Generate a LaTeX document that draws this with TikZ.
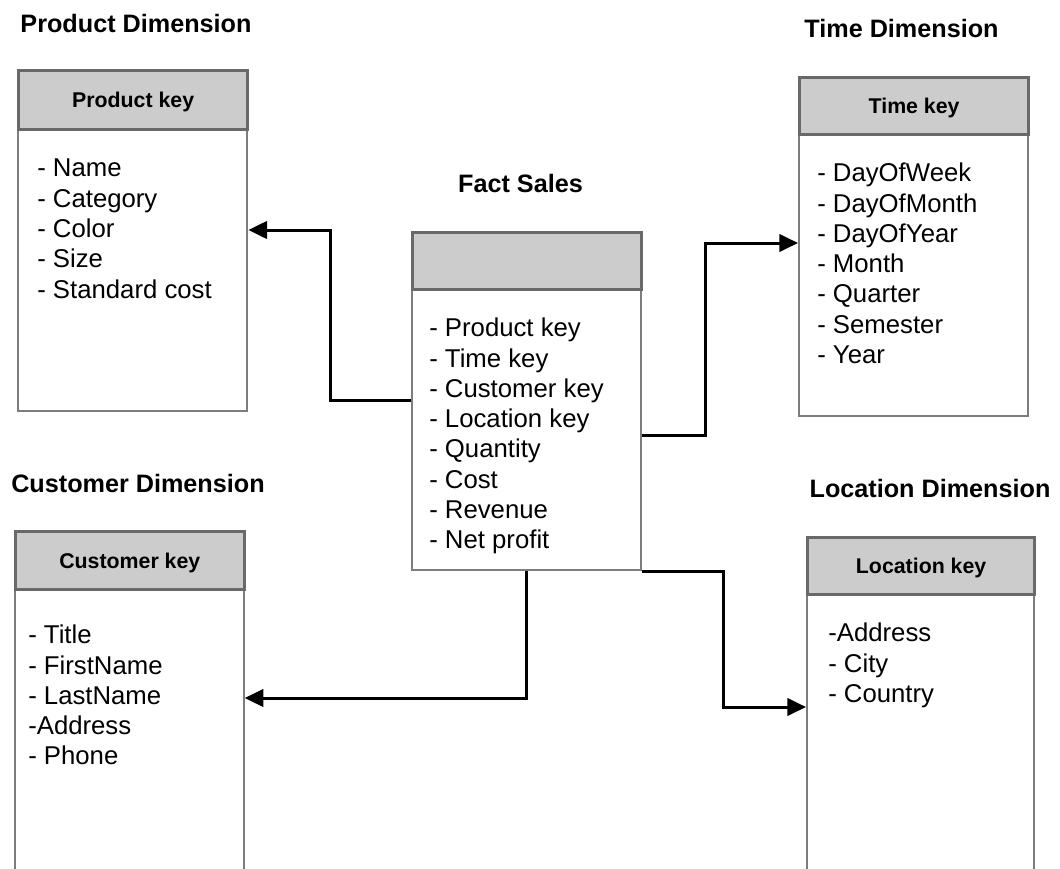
\documentclass[tikz,border=0pt]{standalone}
\usepackage{fontspec}
\setmainfont{Liberation Sans}
\usetikzlibrary{arrows.meta}
\definecolor{bordergray}{RGB}{125,125,125}
\definecolor{headborder}{RGB}{105,105,105}
\definecolor{headfill}{RGB}{204,204,204}
\begin{document}
\begin{tikzpicture}[x=0.75pt,y=-0.75pt,
 body/.style={draw=bordergray, line width=1.5pt, fill=white, rectangle, anchor=north west, inner sep=0pt},
 head/.style={draw=headborder, line width=2.2pt, fill=headfill, rectangle, anchor=north west, inner sep=0pt,
   font=\bfseries\fontsize{16}{19}\selectfont, text height=11.5pt, text depth=0pt},
 title/.style={font=\bfseries\fontsize{18.9}{22}\selectfont, anchor=base, inner sep=0pt},
 items/.style={font=\fontsize{19.3}{22.7}\selectfont, align=left, anchor=north west, inner sep=0pt},
 conn/.style={line width=2.25pt, -{Triangle[length=14pt,width=13pt]}}
]
\useasboundingbox (0,0) rectangle (1060,868);

% Product dimension
\node[title] (prodtitle) at (136,32) {Product Dimension};
\node[body, minimum width=172pt, minimum height=255.75pt] (prod) at (17,69) {};
\node[head, minimum width=172pt, minimum height=44.25pt] (prodhead) at (17,69) {Product key};
\node[items] (proditems) at (37,159) {- Name\\- Category\\- Color\\- Size\\- Standard cost};

% Fact sales
\node[title] (facttitle) at (520.5,192) {Fact Sales};
\node[body, minimum width=171.5pt, minimum height=253.5pt] (fact) at (411,231) {};
\node[head, minimum width=171.5pt, minimum height=42.75pt] (facthead) at (411,231) {};
\node[items] (factitems) at (429,318) {- Product key\\- Time key\\- Customer key\\- Location key\\- Quantity\\- Cost\\- Revenue\\- Net profit};

% Time dimension
\node[title] (timetitle) at (901.5,37) {Time Dimension};
\node[body, minimum width=172pt, minimum height=254.25pt] (time) at (798,76) {};
\node[head, minimum width=172pt, minimum height=42.75pt] (timehead) at (798,76) {Time key};
\node[items] (timeitems) at (817,163) {- DayOfWeek\\- DayOfMonth\\- DayOfYear\\- Month\\- Quarter\\- Semester\\- Year};

% Customer dimension
\node[title] (custtitle) at (138,492) {Customer Dimension};
\node[body, minimum width=171.5pt, minimum height=262.5pt] (cust) at (14,530) {};
\node[head, minimum width=171.5pt, minimum height=43.5pt] (custhead) at (14,530) {Customer key};
\node[items] (custitems) at (28,625) {- Title\\- FirstName\\- LastName\\-Address\\- Phone};

% Location dimension
\node[title] (loctitle) at (930,497) {Location Dimension};
\node[body, minimum width=170.5pt, minimum height=258.75pt] (loc) at (806,536) {};
\node[head, minimum width=170.5pt, minimum height=42.75pt] (lochead) at (806,536) {Location key};
\node[items] (locitems) at (828,623) {-Address\\- City\\- Country};

% connectors
\coordinate (p1) at (330,400); \coordinate (p2) at (330,230);
\draw[conn] (fact.west |- p1) -- (p1) -- (p2) -- (prod.east |- p2);
\coordinate (t1) at (705,435); \coordinate (t2) at (705,243);
\draw[conn] (fact.east |- t1) -- (t1) -- (t2) -- (time.west |- t2);
\coordinate (c1) at (526,698);
\draw[conn] (fact.south) -- (fact.south |- c1) -- (cust.east |- c1);
\coordinate (l1) at (723,571); \coordinate (l2) at (723,707);
\draw[conn] (fact.east |- l1) -- (l1) -- (l2) -- (loc.west |- l2);
\end{tikzpicture}
\end{document}
